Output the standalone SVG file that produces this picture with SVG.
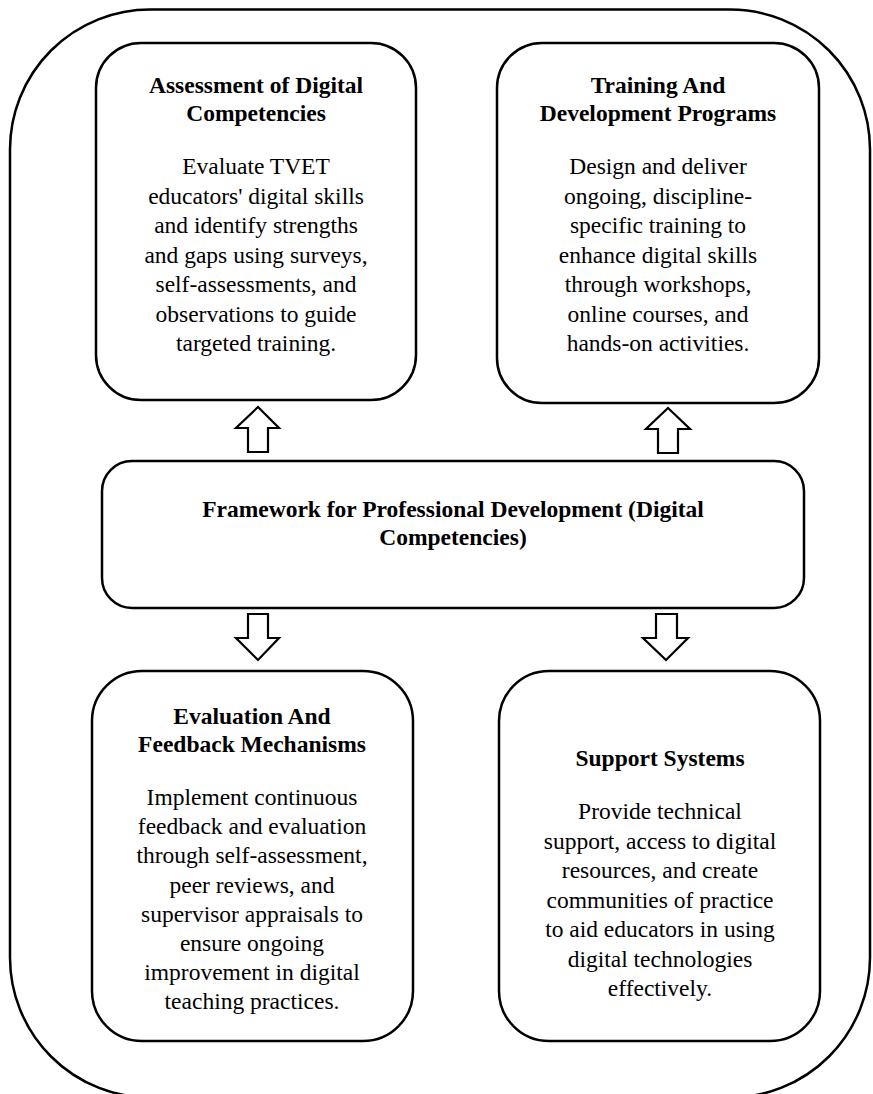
<svg xmlns="http://www.w3.org/2000/svg" width="873" height="1094" viewBox="0 0 873 1094">
<style>
.box{fill:#fff;stroke:#000;stroke-width:2.5}
.arr{fill:#fff;stroke:#000;stroke-width:2.2;stroke-linejoin:miter}
.h{font-family:"Liberation Serif","Times New Roman",serif;font-weight:bold;font-size:23.5px;text-anchor:middle;fill:#000}
.b{font-family:"Liberation Serif","Times New Roman",serif;font-size:23.5px;text-anchor:middle;fill:#000}
</style>
<rect width="873" height="1094" fill="#fff"/>
<g id="outer"><rect class="box" x="10" y="9.5" width="860" height="1088" rx="140" ry="140"/></g>
<g id="connectors">
<polygon class="arr" points="258,407 279,428 268,428 268,452 248,452 248,428 236,428"/>
<polygon class="arr" points="668,408 690,429 678,429 678,453 658,453 658,429 646,429"/>
<polygon class="arr" points="248,614 268,614 268,638 279,638 258,660 236,638 248,638"/>
<polygon class="arr" points="656,614 677,614 677,638 688,638 666,660 643,638 656,638"/>
</g>
<g id="assessment">
<rect class="box" x="96" y="43" width="320" height="357" rx="45" ry="45"/>
<text class="h" x="256" y="93">Assessment of Digital</text>
<text class="h" x="256" y="121">Competencies</text>
<text class="b" x="256" y="174">Evaluate TVET</text>
<text class="b" x="256" y="203.5">educators' digital skills</text>
<text class="b" x="256" y="233">and identify strengths</text>
<text class="b" x="256" y="262.5">and gaps using surveys,</text>
<text class="b" x="256" y="292">self-assessments, and</text>
<text class="b" x="256" y="321.5">observations to guide</text>
<text class="b" x="256" y="351">targeted training.</text>
</g>
<g id="training">
<rect class="box" x="497" y="43" width="322" height="360" rx="45" ry="45"/>
<text class="h" x="658" y="93">Training And</text>
<text class="h" x="658" y="121">Development Programs</text>
<text class="b" x="658" y="174">Design and deliver</text>
<text class="b" x="658" y="203.5">ongoing, discipline-</text>
<text class="b" x="658" y="233">specific training to</text>
<text class="b" x="658" y="262.5">enhance digital skills</text>
<text class="b" x="658" y="292">through workshops,</text>
<text class="b" x="658" y="321.5">online courses, and</text>
<text class="b" x="658" y="351">hands-on activities.</text>
</g>
<g id="framework">
<rect class="box" x="102" y="461" width="702" height="147" rx="30" ry="30"/>
<text class="h" x="453" y="517">Framework for Professional Development (Digital</text>
<text class="h" x="453" y="545">Competencies)</text>
</g>
<g id="evaluation">
<rect class="box" x="92" y="671" width="321" height="370" rx="50" ry="50"/>
<text class="h" x="252" y="724">Evaluation And</text>
<text class="h" x="252" y="752">Feedback Mechanisms</text>
<text class="b" x="252" y="805">Implement continuous</text>
<text class="b" x="252" y="834">feedback and evaluation</text>
<text class="b" x="252" y="863">through self-assessment,</text>
<text class="b" x="252" y="892.5">peer reviews, and</text>
<text class="b" x="252" y="921.5">supervisor appraisals to</text>
<text class="b" x="252" y="950.5">ensure ongoing</text>
<text class="b" x="252" y="980">improvement in digital</text>
<text class="b" x="252" y="1009">teaching practices.</text>
</g>
<g id="support">
<rect class="box" x="499" y="671" width="321" height="370" rx="50" ry="50"/>
<text class="h" x="660" y="766">Support Systems</text>
<text class="b" x="660" y="819">Provide technical</text>
<text class="b" x="660" y="848.5">support, access to digital</text>
<text class="b" x="660" y="878">resources, and create</text>
<text class="b" x="660" y="907.5">communities of practice</text>
<text class="b" x="660" y="937">to aid educators in using</text>
<text class="b" x="660" y="966.5">digital technologies</text>
<text class="b" x="660" y="996">effectively.</text>
</g>
</svg>
